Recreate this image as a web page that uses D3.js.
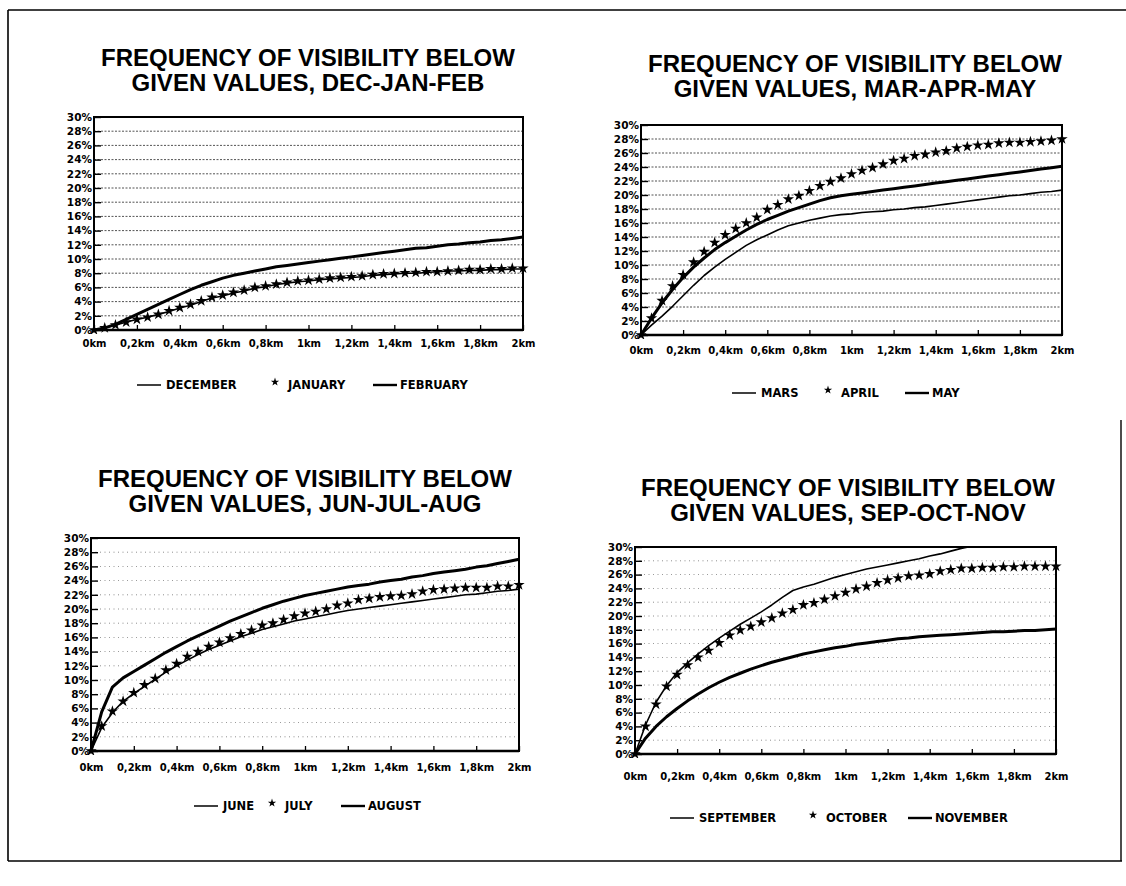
<!DOCTYPE html>
<html>
<head>
<meta charset="utf-8">
<script src="https://cdn.jsdelivr.net/npm/d3@7"></script>
<style>
  html, body { margin: 0; padding: 0; background: #fff; }
  svg { display: block; }
  .tick text { font-family: "DejaVu Sans", Verdana, sans-serif; font-weight: bold; fill: #000; }
</style>
</head>
<body>
<svg id="chart" width="1126" height="886"></svg>
<script>
// ---- data -------------------------------------------------------------
const distanceKm = [0, 0.05, 0.1, 0.15, 0.2, 0.25, 0.3, 0.35, 0.4, 0.45, 0.5, 0.55, 0.6, 0.65, 0.7, 0.75, 0.8, 0.85, 0.9, 0.95, 1, 1.05, 1.1, 1.15, 1.2, 1.25, 1.3, 1.35, 1.4, 1.45, 1.5, 1.55, 1.6, 1.65, 1.7, 1.75, 1.8, 1.85, 1.9, 1.95, 2];

const xTicks = [0, 0.2, 0.4, 0.6, 0.8, 1, 1.2, 1.4, 1.6, 1.8, 2];
const xTickLabels = ["0km", "0,2km", "0,4km", "0,6km", "0,8km", "1km", "1,2km", "1,4km", "1,6km", "1,8km", "2km"];
const yTicks = [0, 2, 4, 6, 8, 10, 12, 14, 16, 18, 20, 22, 24, 26, 28, 30];
const gridValues = [2, 4, 6, 8, 10, 12, 14, 16, 18, 20, 22, 24, 26, 28];

// frequency (%) of visibility below each distance
const december = [0, 0.3, 0.7, 1.1, 1.5, 1.8, 2.2, 2.6, 3.1, 3.5, 4.0, 4.5, 4.8, 5.2, 5.5, 5.9, 6.1, 6.4, 6.6, 6.8, 6.9, 7.1, 7.2, 7.3, 7.4, 7.5, 7.7, 7.8, 7.9, 8.0, 8.0, 8.1, 8.2, 8.3, 8.3, 8.4, 8.4, 8.5, 8.5, 8.6, 8.6];
const january = [0, 0.3, 0.7, 1.1, 1.5, 1.8, 2.2, 2.7, 3.15, 3.6, 4.1, 4.6, 4.9, 5.3, 5.6, 6.0, 6.2, 6.45, 6.7, 6.9, 7.0, 7.15, 7.3, 7.4, 7.5, 7.6, 7.8, 7.9, 7.95, 8.05, 8.1, 8.2, 8.2, 8.3, 8.4, 8.5, 8.5, 8.6, 8.6, 8.7, 8.7];
const february = [0, 0.3, 0.8, 1.5, 2.2, 2.9, 3.6, 4.3, 5.0, 5.7, 6.3, 6.8, 7.3, 7.7, 8.0, 8.3, 8.6, 8.9, 9.1, 9.3, 9.5, 9.7, 9.9, 10.1, 10.3, 10.5, 10.7, 10.9, 11.1, 11.3, 11.5, 11.6, 11.8, 12.0, 12.1, 12.3, 12.4, 12.6, 12.7, 12.9, 13.1];

const mars = [0, 1.4, 2.7, 4.1, 5.6, 7.1, 8.5, 9.7, 10.8, 11.8, 12.8, 13.6, 14.3, 15.0, 15.6, 16.0, 16.4, 16.7, 17.0, 17.2, 17.3, 17.5, 17.6, 17.7, 17.9, 18.0, 18.2, 18.3, 18.5, 18.7, 18.9, 19.1, 19.3, 19.5, 19.7, 19.9, 20.0, 20.2, 20.4, 20.5, 20.7];
const april = [0, 2.4, 4.9, 7.0, 8.6, 10.4, 11.9, 13.2, 14.3, 15.2, 16.0, 16.8, 17.9, 18.6, 19.4, 19.9, 20.6, 21.3, 21.9, 22.4, 23.0, 23.5, 23.9, 24.4, 24.9, 25.2, 25.6, 25.8, 26.1, 26.3, 26.7, 26.9, 27.1, 27.2, 27.4, 27.5, 27.5, 27.6, 27.7, 27.8, 28.0];
const may = [0, 2.4, 4.6, 6.5, 8.2, 9.7, 11.0, 12.2, 13.2, 14.1, 15.0, 15.8, 16.5, 17.1, 17.7, 18.2, 18.7, 19.2, 19.6, 19.9, 20.1, 20.3, 20.5, 20.7, 20.9, 21.1, 21.3, 21.5, 21.7, 21.9, 22.1, 22.3, 22.5, 22.7, 22.9, 23.1, 23.3, 23.5, 23.7, 23.9, 24.1];

const june = [0, 3.3, 5.4, 7.0, 8.1, 9.1, 10.1, 11.1, 12.0, 12.8, 13.6, 14.3, 14.9, 15.5, 16.1, 16.6, 17.1, 17.5, 17.9, 18.3, 18.6, 18.9, 19.2, 19.5, 19.8, 20.0, 20.2, 20.4, 20.6, 20.8, 21.0, 21.2, 21.4, 21.6, 21.8, 22.0, 22.1, 22.3, 22.5, 22.6, 22.8];
const july = [0, 3.5, 5.6, 7.0, 8.2, 9.3, 10.2, 11.4, 12.3, 13.3, 14.0, 14.7, 15.3, 15.9, 16.5, 17.0, 17.7, 18.0, 18.5, 19.0, 19.4, 19.65, 20.0, 20.5, 20.8, 21.3, 21.5, 21.7, 21.8, 21.9, 22.1, 22.5, 22.7, 22.8, 22.9, 23.0, 23.0, 23.0, 23.2, 23.2, 23.4];
const august = [0, 5.5, 9.0, 10.3, 11.2, 12.1, 13.0, 13.9, 14.7, 15.5, 16.2, 16.9, 17.6, 18.3, 18.9, 19.5, 20.1, 20.6, 21.1, 21.5, 21.9, 22.2, 22.5, 22.8, 23.1, 23.3, 23.5, 23.8, 24.0, 24.2, 24.5, 24.7, 25.0, 25.2, 25.4, 25.6, 25.9, 26.1, 26.4, 26.7, 27.0];

const september = [0, 4.2, 7.5, 9.9, 11.8, 13.2, 14.5, 15.7, 16.8, 17.8, 18.8, 19.7, 20.6, 21.6, 22.7, 23.7, 24.2, 24.6, 25.1, 25.6, 26.0, 26.4, 26.8, 27.1, 27.4, 27.7, 28.0, 28.3, 28.7, 29.0, 29.4, 29.8, 30.1, 30.4, 30.7, 31.0, 31.3, 31.5, 31.8, 32.0, 32.3];
const october = [0, 4.0, 7.2, 9.8, 11.5, 12.9, 14.0, 15.0, 16.1, 17.2, 17.95, 18.5, 19.1, 19.7, 20.4, 20.9, 21.6, 21.9, 22.4, 22.9, 23.4, 23.9, 24.3, 24.8, 25.2, 25.5, 25.8, 25.9, 26.1, 26.5, 26.7, 26.9, 26.9, 27.0, 27.0, 27.1, 27.1, 27.2, 27.2, 27.2, 27.2];
const november = [0, 2.3, 4.0, 5.4, 6.6, 7.7, 8.7, 9.6, 10.4, 11.1, 11.7, 12.3, 12.8, 13.3, 13.7, 14.1, 14.5, 14.8, 15.1, 15.4, 15.6, 15.9, 16.1, 16.3, 16.5, 16.7, 16.8, 17.0, 17.1, 17.2, 17.3, 17.4, 17.5, 17.6, 17.7, 17.7, 17.8, 17.9, 17.9, 18.0, 18.1];

const titleLine1 = "FREQUENCY OF VISIBILITY BELOW";
const seasonTitles = ["GIVEN VALUES, DEC-JAN-FEB", "GIVEN VALUES, MAR-APR-MAY", "GIVEN VALUES, JUN-JUL-AUG", "GIVEN VALUES, SEP-OCT-NOV"];
const monthNames = [
  ["DECEMBER", "JANUARY", "FEBRUARY"],
  ["MARS", "APRIL", "MAY"],
  ["JUNE", "JULY", "AUGUST"],
  ["SEPTEMBER", "OCTOBER", "NOVEMBER"]
];
const monthValues = [
  [december, january, february],
  [mars, april, may],
  [june, july, august],
  [september, october, november]
];

// ---- layout (pixel geometry of each panel) ----------------------------
const layout = [
  { x0: 94,  x1: 523,  top: 117, bottom: 330, titleX: 308, titleY: [66, 91],   labelPad: 10, grid: "dense",
    legendY: 385, legendX: [137, 275, 373] },
  { x0: 641, x1: 1062, top: 125, bottom: 335, titleX: 855, titleY: [72, 97],   labelPad: 12, grid: "dense",
    legendY: 393, legendX: [732, 828, 905] },
  { x0: 91,  x1: 519,  top: 538, bottom: 751, titleX: 305, titleY: [487, 512], labelPad: 13, grid: "sparse",
    legendY: 806, legendX: [194, 272, 341] },
  { x0: 635, x1: 1056, top: 547, bottom: 754, titleX: 848, titleY: [496, 521], labelPad: 19, grid: "sparse",
    legendY: 818, legendX: [670, 813, 908] }
];
const thinWidth = 1.6, thickWidth = 3;

// ---- drawing ----------------------------------------------------------
const svg = d3.select("#chart");
svg.append("rect").attr("width", 1126).attr("height", 886).attr("fill", "#fff");

// page frame
const frame = svg.append("g").attr("stroke", "#000").attr("fill", "none");
frame.append("line").attr("x1", 8).attr("y1", 10).attr("x2", 1126).attr("y2", 10).attr("stroke-width", 1.6);
frame.append("line").attr("x1", 8).attr("y1", 10).attr("x2", 8).attr("y2", 861).attr("stroke-width", 1.6);
frame.append("line").attr("x1", 8).attr("y1", 861).attr("x2", 1122).attr("y2", 861).attr("stroke-width", 1.6);
frame.append("line").attr("x1", 1121).attr("y1", 420).attr("x2", 1121).attr("y2", 861).attr("stroke-width", 1.4);

const star = d3.symbol().type(d3.symbolStar);

layout.forEach((L, p) => {
  const g = svg.append("g");
  const x = d3.scaleLinear().domain([0, 2]).range([L.x0, L.x1]);
  const y = d3.scaleLinear().domain([0, 30]).range([L.bottom, L.top]);

  // title
  const t = g.append("g").attr("font-family", "'Liberation Sans', Arial, Helvetica, sans-serif")
    .attr("font-weight", "bold").attr("font-size", 24).attr("text-anchor", "middle").attr("fill", "#000");
  t.append("text").attr("x", L.titleX).attr("y", L.titleY[0]).text(titleLine1);
  t.append("text").attr("x", L.titleX).attr("y", L.titleY[1]).text(seasonTitles[p]);

  // dotted horizontal grid
  g.append("g").selectAll("line").data(gridValues).join("line")
    .attr("x1", L.x0).attr("x2", L.x1)
    .attr("y1", d => y(d)).attr("y2", d => y(d))
    .attr("stroke", "#000")
    .attr("stroke-width", L.grid === "dense" ? 0.9 : 0.8)
    .attr("stroke-dasharray", L.grid === "dense" ? "2,1.5" : "1,3.5")
    .attr("opacity", L.grid === "dense" ? 0.75 : 0.55);

  // axes
  const yAxis = g.append("g").attr("transform", `translate(${L.x0},0)`)
    .call(d3.axisLeft(y).tickValues(yTicks).tickFormat(d => d + "%").tickSize(-7).tickPadding(2));
  yAxis.selectAll("text").attr("font-size", 10.5);
  yAxis.selectAll(".tick line").attr("stroke-width", 1.4);
  yAxis.select(".domain").remove();

  const xAxis = g.append("g").attr("transform", `translate(0,${L.bottom})`)
    .call(d3.axisBottom(x).tickValues(xTicks).tickFormat((d, i) => xTickLabels[i]).tickSize(-5).tickPadding(L.labelPad));
  xAxis.selectAll("text").attr("font-size", 10);
  xAxis.selectAll(".tick line").attr("stroke-width", 1.3);
  xAxis.select(".domain").remove();

  // plot frame
  g.append("rect").attr("x", L.x0).attr("y", L.top)
    .attr("width", L.x1 - L.x0).attr("height", L.bottom - L.top)
    .attr("fill", "none").attr("stroke", "#000").attr("stroke-width", 2);
  g.append("line").attr("x1", L.x0).attr("x2", L.x1).attr("y1", L.bottom).attr("y2", L.bottom)
    .attr("stroke", "#000").attr("stroke-width", 2.6);

  // clip region for curves exceeding the scale
  const clipId = "clip" + p;
  svg.append("clipPath").attr("id", clipId).append("rect")
    .attr("x", L.x0 - 6).attr("y", L.top).attr("width", L.x1 - L.x0 + 12).attr("height", L.bottom - L.top + 4);

  const series = monthValues[p];
  const line = d3.line().x((d, i) => x(distanceKm[i])).y(d => y(d));
  const plot = g.append("g").attr("clip-path", `url(#${clipId})`);

  plot.append("path").datum(series[0]).attr("d", line)
    .attr("fill", "none").attr("stroke", "#000").attr("stroke-width", thinWidth).attr("stroke-linejoin", "round");
  plot.append("path").datum(series[2]).attr("d", line)
    .attr("fill", "none").attr("stroke", "#000").attr("stroke-width", thickWidth).attr("stroke-linejoin", "round");
  plot.append("g").selectAll("path").data(series[1]).join("path")
    .attr("transform", (d, i) => `translate(${x(distanceKm[i])},${y(d)})`)
    .attr("d", star.size(40)())
    .attr("fill", "#000");

  // legend
  const lg = g.append("g").attr("font-family", "'DejaVu Sans', Verdana, sans-serif")
    .attr("font-weight", "bold").attr("font-size", 11.5).attr("fill", "#000");
  const ly = L.legendY;
  lg.append("line").attr("x1", L.legendX[0]).attr("x2", L.legendX[0] + 24).attr("y1", ly).attr("y2", ly)
    .attr("stroke", "#000").attr("stroke-width", 1.5);
  lg.append("text").attr("x", L.legendX[0] + 29).attr("y", ly + 4).text(monthNames[p][0]);
  lg.append("path").attr("transform", `translate(${L.legendX[1]},${ly - 3})`).attr("d", star.size(22)()).attr("fill", "#000");
  lg.append("text").attr("x", L.legendX[1] + 13).attr("y", ly + 4).text(monthNames[p][1]);
  lg.append("line").attr("x1", L.legendX[2]).attr("x2", L.legendX[2] + 24).attr("y1", ly).attr("y2", ly)
    .attr("stroke", "#000").attr("stroke-width", 2.4);
  lg.append("text").attr("x", L.legendX[2] + 27).attr("y", ly + 4).text(monthNames[p][2]);
});
</script>
</body>
</html>
